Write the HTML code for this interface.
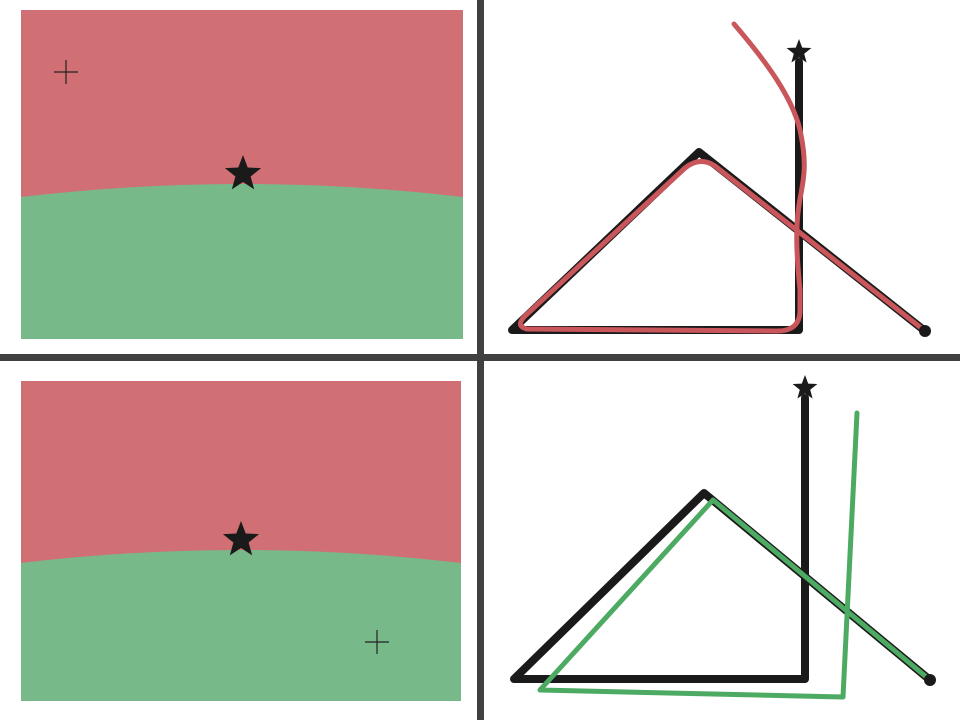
<!DOCTYPE html>
<html><head><meta charset="utf-8"><style>
html,body{margin:0;padding:0;background:#fff;width:960px;height:720px;overflow:hidden;font-family:"Liberation Sans",sans-serif}
</style></head><body>
<svg width="960" height="720" viewBox="0 0 960 720">
<rect x="0" y="0" width="960" height="720" fill="#fff"/>
<g id="tl"></g>
<g id="bl"></g>
<g id="tr"></g>
<g id="br"></g>
<rect x="477" y="0" width="7" height="720" fill="#404040"/>
<rect x="0" y="354" width="960" height="7" fill="#404040"/>
</svg>
<script>
const NS="http://www.w3.org/2000/svg";
const tlBox=[21,10,463,339], tlEdgeY=197, tlMidY=184, tlStar=[243,174], tlPlus=[66,72];
const blBox=[21,381,461,701], blEdgeY=563, blMidY=550, blStar=[241,540], blPlus=[377,642];
const trBlack=[[799,62],[799,330],[512,330],[699,152],[925,331]];
const trStar=[799,52];
const trRed="M734,24 C765,60 795,100 801,135 C808,170 802,185 799,205 C795,230 797,260 800,290 L800,310 Q800,332 775,331 L527,329 Q515,326 525,316 L685,168 Q700,156 715,166 L925,331";
const brBlack=[[805,398],[805,679],[514,679],[704,493],[930,680]];
const brStar=[805,388];
const brGreen=[[857,413],[843,697],[540,690],[713,500],[930,680]];

function el(tag,attrs,parent){const e=document.createElementNS(NS,tag);for(const k in attrs)e.setAttribute(k,attrs[k]);parent.appendChild(e);return e;}
function star(g,c,r,name){const pts=[];for(let i=0;i<10;i++){const a=-Math.PI/2+i*Math.PI/5;const rr=i%2?r*0.42:r;pts.push((c[0]+rr*Math.cos(a)).toFixed(1)+","+(c[1]+rr*Math.sin(a)).toFixed(1));}
 const s=el('polygon',{points:pts.join(' '),fill:'#1a1a1a'},g);
 
 }
function region(id,box,edgeY,midY,st,pl){const g=document.getElementById(id);
 const [x0,y0,x1,y1]=box;const xm=(x0+x1)/2;const cy=2*midY-edgeY;
 const r=el('rect',{x:x0,y:y0,width:x1-x0,height:y1-y0,fill:'#d07074'},g);
 
 
 const p=el('path',{d:`M${x0},${edgeY} Q${xm},${cy} ${x1},${edgeY} L${x1},${y1} L${x0},${y1} Z`,fill:'#78b989'},g);
 
 
 star(g,st,19,'goal-star');
 const pg=el('path',{d:`M${pl[0]-12},${pl[1]} h24 M${pl[0]},${pl[1]-12} v24`,stroke:'#222','stroke-width':1.2,fill:'none'},g);
 
 }
function poly(g,pts,color,w,name){const l=el('polyline',{points:pts.map(p=>p.join(',')).join(' '),fill:'none',stroke:color,'stroke-width':w,'stroke-linejoin':'round','stroke-linecap':'round'},g);
 
 }
region('tl',tlBox,tlEdgeY,tlMidY,tlStar,tlPlus);
region('bl',blBox,blEdgeY,blMidY,blStar,blPlus);
const tr=document.getElementById('tr');
poly(tr,trBlack,'#1a1a1a',8,'reference-path');
star(tr,trStar,13,'path-start-star');
const rp=el('path',{d:trRed,fill:'none',stroke:'#c9565b','stroke-width':5,'stroke-linecap':'round','stroke-linejoin':'round'},tr);


const d1=el('circle',{cx:trBlack[4][0],cy:trBlack[4][1],r:6,fill:'#1a1a1a'},tr);


const br=document.getElementById('br');
poly(br,brBlack,'#1a1a1a',8,'reference-path');
star(br,brStar,13,'path-start-star');
poly(br,brGreen,'#4caa62',5,'green-trajectory');
const d2=el('circle',{cx:brBlack[4][0],cy:brBlack[4][1],r:6,fill:'#1a1a1a'},br);


</script>
</body></html>
